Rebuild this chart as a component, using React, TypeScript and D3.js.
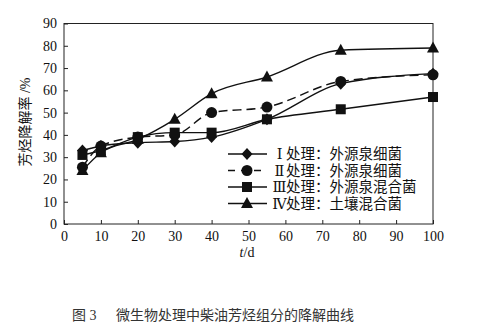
import React, { useEffect, useRef } from 'react';
import * as d3 from 'd3';

const days = [5, 10, 20, 30, 40, 55, 75, 100];
const seriesI = [33, 35, 36.5, 37, 39, 47, 63, 67.5];
const seriesII = [25.5, 35, 39, 40, 50, 52.5, 64, 67];
const seriesIII = [31, 33, 39, 41, 41, 47, 51.5, 57];
const seriesIV = [24, 32, 38, 47, 58.5, 66, 78, 79];
const legendNumerals = ['Ⅰ', 'Ⅱ', 'Ⅲ', 'Ⅳ'];
const legendLabels = ['处理：外源泉细菌', '处理：外源泉细菌', '处理：外源泉混合菌', '处理：土壤混合菌'];
const markerTypes = ['diamond', 'circle', 'square', 'triangle'];
const xTicks = [0, 10, 20, 30, 40, 50, 60, 70, 80, 90, 100];
const yTicks = [0, 10, 20, 30, 40, 50, 60, 70, 80, 90];

const FONT = '"Liberation Serif", "DejaVu Serif", "Noto Sans CJK SC", serif';

export default function App() {
  const svgRef = useRef<SVGSVGElement>(null);

  useEffect(() => {
    if (!svgRef.current) return;
    const svg = d3.select(svgRef.current);
    svg.selectAll('*').remove();

    const x = d3.scaleLinear().domain([0, 100]).range([64, 433]);
    const y = d3.scaleLinear().domain([0, 90]).range([224, 23.5]);

    svg.append('rect').attr('width', 495).attr('height', 328).attr('fill', '#fff');

    // frame
    svg.append('rect')
      .attr('x', 64).attr('y', 23.5).attr('width', 369).attr('height', 200.5)
      .attr('fill', 'none').attr('stroke', '#222').attr('stroke-width', 1);

    const gx = svg.append('g').attr('transform', 'translate(0,224)')
      .call(d3.axisBottom(x).tickValues(xTicks).tickSize(-4).tickPadding(7).tickFormat(d3.format('d')));
    gx.attr('font-family', null).attr('font-size', null);
    gx.select('.domain').remove();
    gx.selectAll('line').attr('stroke', '#222');
    gx.selectAll('text').style('font-family', FONT).style('font-size', '14px').attr('fill', '#111');

    const gy = svg.append('g').attr('transform', 'translate(64,0)')
      .call(d3.axisLeft(y).tickValues(yTicks).tickSize(-4).tickPadding(7).tickFormat(d3.format('d')));
    gy.attr('font-family', null).attr('font-size', null);
    gy.select('.domain').remove();
    gy.selectAll('line').attr('stroke', '#222');
    gy.selectAll('text').style('font-family', FONT).style('font-size', '14px').attr('fill', '#111');

    const allSeries = [seriesI, seriesII, seriesIII, seriesIV];
    const line = d3.line<number>()
      .x((_, i) => x(days[i]))
      .y(d => y(d))
      .curve(d3.curveMonotoneX);

    const drawMarker = (g: any, type: string, cx: number, cy: number) => {
      if (type === 'diamond') {
        g.append('path').attr('d', `M${cx},${cy - 6}L${cx + 5.5},${cy}L${cx},${cy + 6}L${cx - 5.5},${cy}Z`).attr('fill', '#111');
      } else if (type === 'circle') {
        g.append('circle').attr('cx', cx).attr('cy', cy).attr('r', 5.5).attr('fill', '#111');
      } else if (type === 'square') {
        g.append('rect').attr('x', cx - 5).attr('y', cy - 5).attr('width', 10).attr('height', 10).attr('fill', '#111');
      } else {
        g.append('path').attr('d', `M${cx},${cy - 6.5}L${cx + 6},${cy + 4.5}L${cx - 6},${cy + 4.5}Z`).attr('fill', '#111');
      }
    };

    allSeries.forEach((s, k) => {
      svg.append('path')
        .attr('d', line(s))
        .attr('fill', 'none')
        .attr('stroke', '#111')
        .attr('stroke-width', 1.4)
        .attr('stroke-dasharray', k === 1 ? '9,5' : null);
      const g = svg.append('g');
      s.forEach((v, i) => drawMarker(g, markerTypes[k], x(days[i]), y(v)));
    });

    // legend
    const legend = svg.append('g');
    legendLabels.forEach((lab, k) => {
      const ly = 154 + k * 16.5;
      legend.append('line')
        .attr('x1', 228).attr('x2', 267).attr('y1', ly).attr('y2', ly)
        .attr('stroke', '#111').attr('stroke-width', 1.4)
        .attr('stroke-dasharray', k === 1 ? '7,6' : null);
      drawMarker(legend, markerTypes[k], 247, ly);
      legend.append('text')
        .attr('x', 279.5).attr('y', ly + 5)
        .attr('text-anchor', 'middle')
        .style('font-family', FONT).style('font-size', '14.5px').attr('fill', '#111')
        .text(legendNumerals[k]);
      legend.append('text')
        .attr('x', 286).attr('y', ly + 5)
        .style('font-family', FONT).style('font-size', '14.5px').attr('fill', '#111')
        .text(lab);
    });

    // axis titles
    svg.append('text')
      .attr('transform', 'translate(30,122) rotate(-90)')
      .attr('text-anchor', 'middle')
      .style('font-family', FONT).style('font-size', '14px').attr('fill', '#111')
      .text('芳烃降解率 /%');

    const xt = svg.append('text')
      .attr('x', 247).attr('y', 257)
      .attr('text-anchor', 'middle')
      .style('font-family', FONT).style('font-size', '14px').attr('fill', '#111');
    xt.append('tspan').style('font-style', 'italic').text('t');
    xt.append('tspan').text('/d');

    // caption
    svg.append('text')
      .attr('x', 72).attr('y', 320)
      .style('font-family', FONT).style('font-size', '14px').attr('fill', '#333')
      .text('图 3');
    svg.append('text')
      .attr('x', 116).attr('y', 320)
      .style('font-family', FONT).style('font-size', '14px').attr('fill', '#333')
      .text('微生物处理中柴油芳烃组分的降解曲线');
  }, []);

  return (
    <div style={{ position: 'absolute', left: 0, top: 0 }}>
      <svg ref={svgRef} width={495} height={328} style={{ display: 'block' }} />
    </div>
  );
}
